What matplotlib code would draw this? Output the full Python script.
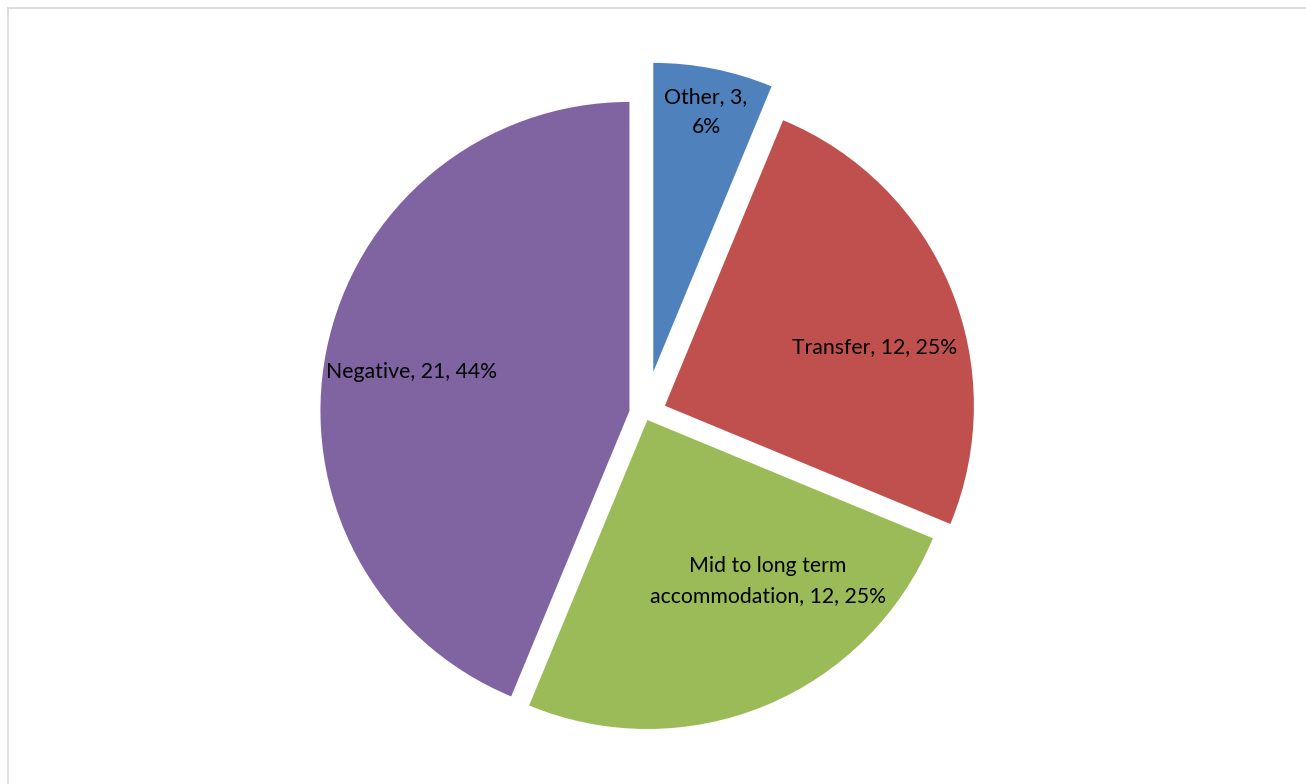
import matplotlib
matplotlib.use("Agg")
import matplotlib.pyplot as plt
from matplotlib.lines import Line2D

categories = ["Other", "Transfer", "Mid to long term\naccommodation", "Negative"]
values = [3, 12, 12, 21]
colors = ["#4F81BD", "#C0504D", "#9BBB59", "#8064A2"]
explode_frac = [0.139, 0.070, 0.021, 0.051]

W, H = 1306, 784
fig = plt.figure(figsize=(W / 100, H / 100), dpi=100)
ax = fig.add_axes([0, 0, 1, 1])

R = 309
cx, cy = 644.9, H - 414.0
wedges, _ = ax.pie(values, colors=colors, startangle=90, counterclock=False,
                   radius=R, center=(cx, cy),
                   explode=[e * R for e in explode_frac],
                   wedgeprops=dict(linewidth=0))
ax.set_xlim(0, W)
ax.set_ylim(0, H)
ax.set_aspect("equal")
ax.axis("off")

total = sum(values)
labels = []
for c, v in zip(categories, values):
    pct = round(100 * v / total)
    if c == "Other":
        labels.append(f"{c}, {v},\n{pct}%")
    else:
        labels.append(f"{c}, {v}, {pct}%")

label_pos = [(706, 112), (875, 347), (768, 581), (412, 372)]
for lab, (lx, ly) in zip(labels, label_pos):
    ax.text(lx, H - ly, lab, ha="center", va="center", fontsize=15.3,
            family="Lato", color="black", linespacing=1.58)

# chart-area border (only top and left edges are inside the image)
border_kw = dict(color="#D9D9D9", linewidth=1.2, transform=None, figure=fig)
fig.lines.append(Line2D([7.5, W + 10], [H - 7.5, H - 7.5], **border_kw))
fig.lines.append(Line2D([7.5, 7.5], [-10, H - 7.5], **border_kw))
fig.savefig("out.png", dpi=100)
